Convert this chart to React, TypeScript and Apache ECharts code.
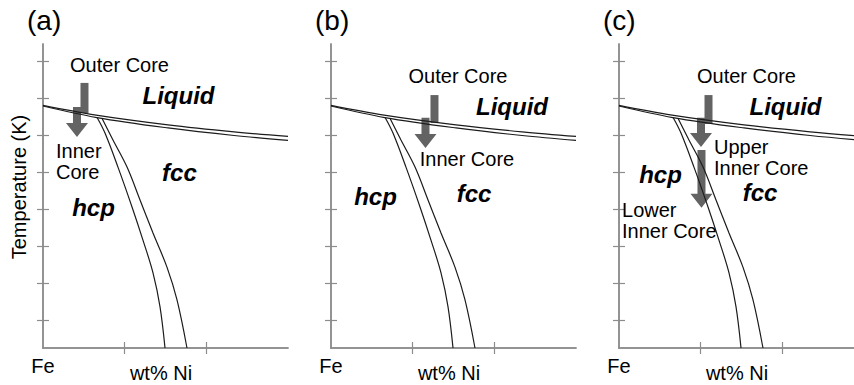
import React, { useEffect, useRef } from "react";
import * as echarts from "echarts";

// ---------- data (x: wt% Ni, arbitrary 0–30; y: temperature, normalised 0–100) ----------
const panelNames = ["(a)", "(b)", "(c)"];
const xTicks = [10, 20];
const yTicks = [9.2, 21.4, 33.5, 45.7, 57.9, 70.1, 82.2, 94.4];
const xEndLabel = "Fe";
const xTitle = "wt% Ni";
const yTitle = "Temperature (K)";

const liquidusUpper = [
  [0, 79.8], [6.5, 76.6], [15.3, 73.4], [23.4, 71.1], [30, 69.6],
];
const liquidusLower = [
  [0, 79.6], [6.6, 75.8], [15.3, 72.4], [23.4, 69.9], [30, 68.3],
];
const hcpBoundary = [
  [6.61, 75.9], [7.59, 70.7], [9.18, 59.5], [10.9, 46.4], [12.24, 35.5],
  [13.47, 24.7], [14.33, 13.5], [14.94, 0],
];
const fccBoundary = [
  [7.22, 75.6], [8.57, 68.4], [10.29, 59.5], [11.88, 48.7], [13.47, 37.8],
  [15.18, 26.6], [16.41, 15.8], [17.63, 0],
];

// arrows: [x, yStart, yEnd, hasHead]
const arrowsA = [[5.08, 87.2, 77.3, 0], [4.16, 79.3, 69.4, 1]];
const arrowsB = [[12.67, 83.2, 74.0, 0], [11.57, 75.7, 65.8, 1]];
const arrowsC = [[10.96, 83.2, 73.7, 0], [10.04, 75.7, 66.1, 1], [10.1, 65.1, 46.1, 1]];

// annotations: [x, y, text, kind]  kind: phase | region | regionLeft
const notesA = [
  [9.37, 93.1, "Outer Core", "region"],
  [16.59, 82.9, "Liquid", "phase"],
  [1.59, 61.2, "Inner\nCore", "regionLeft"],
  [16.71, 57.6, "fcc", "phase"],
  [6.18, 46.1, "hcp", "phase"],
];
const notesB = [
  [15.55, 89.5, "Outer Core", "region"],
  [22.16, 79.3, "Liquid", "phase"],
  [16.65, 62.2, "Inner Core", "region"],
  [5.45, 49.7, "hcp", "phase"],
  [17.51, 50.7, "fcc", "phase"],
];
const notesC = [
  [15.61, 89.5, "Outer Core", "region"],
  [20.39, 79.6, "Liquid", "phase"],
  [11.63, 62.7, "Upper\nInner Core", "regionLeft"],
  [5.08, 57.2, "hcp", "phase"],
  [17.27, 51.0, "fcc", "phase"],
  [0.37, 42.1, "Lower\nInner Core", "regionLeft"],
];

const panelArrows = [arrowsA, arrowsB, arrowsC];
const panelNotes = [notesA, notesB, notesC];

// ---------- styling ----------
const FONT = "'Liberation Sans', Arial, Helvetica, sans-serif";
const FRAME = "#8c8c8c";
const LINE = "#1c1c1c";
const ARROW = "#636363";
const INK = "#000000";

const grids = [
  { left: 43, right: 566, top: 44, bottom: 37, containLabel: false, outerBoundsMode: "none" },
  { left: 331, right: 278, top: 44, bottom: 37, containLabel: false, outerBoundsMode: "none" },
  { left: 619, right: -10, top: 44, bottom: 37, containLabel: false, outerBoundsMode: "none" },
];
const panelLabelX = [27, 315, 603];

export default function App() {
  const ref = useRef<HTMLDivElement>(null);
  useEffect(() => {
    if (!ref.current) return;
    const chart = echarts.init(ref.current, null, { renderer: "svg" });

    const xAxis: any[] = [];
    const yAxis: any[] = [];
    const series: any[] = [];

    grids.forEach((_, i) => {
      const tickBase = {
        show: true,
        inside: true,
        length: 6,
        lineStyle: { color: FRAME, width: 1.2 },
      };
      const lineBase = { show: true, lineStyle: { color: FRAME, width: 1.5 } };
      xAxis.push({
        type: "value",
        gridIndex: i,
        position: "bottom",
        min: 0,
        max: 30,
        axisLine: lineBase,
        axisTick: { ...tickBase, customValues: xTicks },
        axisLabel: {
          show: true,
          customValues: [0],
          formatter: () => xEndLabel,
          margin: 8,
          fontSize: 20,
          color: INK,
          fontFamily: FONT,
        },
        splitLine: { show: false },
        name: xTitle,
        nameLocation: "middle",
        nameGap: 17,
        nameMoveOverlap: false,
        nameTextStyle: {
          fontSize: 20,
          lineHeight: 16,
          color: INK,
          fontFamily: FONT,
          padding: [0, 9, 0, 0],
        },
      });
      xAxis.push({
        type: "value",
        gridIndex: i,
        position: "top",
        min: 0,
        max: 30,
        axisLine: lineBase,
        axisTick: { ...tickBase, customValues: xTicks },
        axisLabel: { show: false },
        splitLine: { show: false },
      });
      yAxis.push({
        type: "value",
        gridIndex: i,
        position: "left",
        min: 0,
        max: 100,
        axisLine: lineBase,
        axisTick: { ...tickBase, customValues: yTicks },
        axisLabel: { show: false },
        splitLine: { show: false },
        ...(i === 0
          ? {
              name: yTitle,
              nameLocation: "middle",
              nameGap: 14,
              nameMoveOverlap: false,
              nameTextStyle: { fontSize: 20, color: INK, fontFamily: FONT, padding: [0, 0, 0, 18] },
            }
          : {}),
      });
      yAxis.push({
        type: "value",
        gridIndex: i,
        position: "right",
        min: 0,
        max: 100,
        axisLine: lineBase,
        axisTick: { ...tickBase, customValues: yTicks },
        axisLabel: { show: false },
        splitLine: { show: false },
      });

      const axisRef = { xAxisIndex: 2 * i, yAxisIndex: 2 * i };

      // arrows (below the phase boundary lines)
      series.push({
        type: "custom",
        ...axisRef,
        z: 1,
        clip: true,
        data: panelArrows[i],
        renderItem: (params: any, api: any) => {
          const x = api.value(0);
          const p1 = api.coord([x, api.value(1)]);
          const p2 = api.coord([x, api.value(2)]);
          const head = api.value(3);
          const sw = 4;
          if (!head) {
            return {
              type: "rect",
              shape: { x: p1[0] - sw, y: p1[1], width: 2 * sw, height: p2[1] - p1[1] },
              style: { fill: ARROW },
            };
          }
          const hl = 14;
          const hw = 11;
          const cx = p1[0];
          return {
            type: "polygon",
            shape: {
              points: [
                [cx - sw, p1[1]],
                [cx + sw, p1[1]],
                [cx + sw, p2[1] - hl],
                [cx + hw, p2[1] - hl],
                [cx, p2[1]],
                [cx - hw, p2[1] - hl],
                [cx - sw, p2[1] - hl],
              ],
            },
            style: { fill: ARROW },
          };
        },
      });

      [liquidusUpper, liquidusLower, hcpBoundary, fccBoundary].forEach((d) => {
        series.push({
          type: "line",
          ...axisRef,
          z: 3,
          data: d,
          smooth: 0.35,
          showSymbol: false,
          symbol: "none",
          lineStyle: { color: LINE, width: 1.2 },
          silent: true,
        });
      });

      series.push({
        type: "scatter",
        ...axisRef,
        z: 5,
        symbolSize: 0,
        silent: true,
        itemStyle: { opacity: 1 },
        data: panelNotes[i].map((n) => {
          const kind = n[3];
          const phase = kind === "phase";
          return {
            value: [n[0], n[1]],
            label: {
              show: true,
              position: "inside",
              formatter: n[2] as string,
              align: kind === "regionLeft" ? "left" : "center",
              verticalAlign: "middle",
              fontFamily: FONT,
              fontSize: phase ? 24 : 20,
              fontWeight: phase ? "bold" : "normal",
              fontStyle: phase ? "italic" : "normal",
              lineHeight: 21,
              color: INK,
              opacity: 1,
            },
          };
        }),
      });
    });

    chart.setOption({
      animation: false,
      backgroundColor: "#ffffff",
      grid: grids,
      xAxis,
      yAxis,
      series,
      graphic: panelNames.map((t, i) => ({
        type: "text",
        left: panelLabelX[i],
        top: 6,
        style: { text: t, fontSize: 28, fontFamily: FONT, fill: INK },
      })),
    });
    return () => chart.dispose();
  }, []);
  return (
    <div
      ref={ref}
      style={{ position: "fixed", left: 0, top: 0, width: 854, height: 385 }}
    />
  );
}
